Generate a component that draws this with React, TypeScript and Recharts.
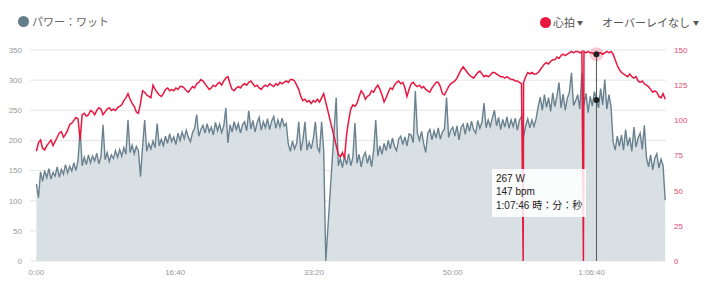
import React from "react";
import {
  ComposedChart,
  Area,
  Line,
  XAxis,
  YAxis,
  CartesianGrid,
  ReferenceLine,
  ReferenceDot,
} from "recharts";

// one sample every 15 seconds, 0:00 .. 1:15:30
const STEP_SEC = 15;

// power (W), null = no sample
const POWER: (number | null)[] = [
  128, 105, 148, 132, 150, 138, 153, 136, 147, 141, 156, 139, 152, 144, 160, 146, 157, 149, 163, 150,
  167, 218, 158, 172, 160, 176, 163, 174, 166, 179, 161, 173, 226, 168, 180, 165, 176, 170, 183, 172,
  185, 174, 188, 177, 234, 180, 192, 178, 190, 183, 140, 189, 234, 182, 195, 186, 199, 188, 228, 191,
  202, 191, 207, 195, 211, 198, 206, 193, 212, 200, 214, 203, 217, 205, 198, 213, 220, 243, 207, 218,
  225, 212, 228, 214, 222, 209, 230, 216, 227, 213, 224, 254, 196, 226, 214, 231, 218, 228, 212, 226,
  231, 216, 249, 219, 233, 214, 229, 238, 217, 231, 221, 236, 218, 232, 240, 220, 234, 222, 237, 224,
  228, 194, 182, 199, 186, 195, 231, 183, 200, 231, 184, 197, 186, 203, 231, 188, 181, 231, 183, 0,
  null, null, null, null, 271, 158, 170, 155, 174, 160, 178, 158, 172, 229, 162, 177, 156, 173, 180, 162,
  176, 156, 184, 234, 174, 191, 177, 195, 183, 200, 186, 204, 190, 183, 202, 207, 193, 206, 191, 211,
  209, 196, 282, 212, 200, 215, 195, 180, 212, 218, 201, 216, 204, 221, 202, 214, 219, 271, 205, 217,
  222, 207, 224, 201, 222, 227, 210, 229, 215, 232, 218, 212, 233, 220, 230, 262, 221, 234, 223, 237,
  250, 224, 238, 218, 235, 222, 239, 220, 234, 223, 237, 217, 233, 240, 206, 224, 236, 221, 234, 223,
  236, 256, 272, 250, 276, 255, 271, 248, 279, 256, 273, 296, 254, 277, 250, 270, 280, 312, 258, 266,
  276, 252, 312, 259, 278, 246, 273, 257, 281, 267, 254, 286, 259, 301, 252, 276, 256, 198, 184, 207,
  190, 209, 184, 218, 191, 205, 182, 222, 189, 204, 212, 185, 225, 172, 156, 176, 151, 170, 178, 154,
  169, 158, 101,
];

// heart rate (bpm)
const HR: (number | null)[] = [
  78, 84, 86, 80, 79, 82, 84, 86, 82, 85, 88, 91, 92, 88, 90, 93, 97, 98, 100, 102,
  101, 86, 104, 105, 103, 104, 107, 106, 104, 107, 109, 108, 104, 106, 108, 109, 107, 108, 107, 109,
  110, 111, 114, 116, 119, 115, 112, 110, 106, 105, 112, 121, 120, 118, 117, 116, 125, 122, 120, 118,
  117, 119, 122, 123, 121, 122, 121, 123, 122, 124, 124, 123, 121, 120, 122, 124, 123, 126, 127, 129,
  128, 126, 124, 122, 123, 125, 124, 126, 127, 125, 128, 130, 131, 126, 122, 121, 123, 124, 123, 125,
  126, 125, 127, 128, 126, 124, 125, 123, 122, 124, 125, 124, 126, 125, 124, 126, 125, 127, 126, 127,
  128, 127, 129, 129, 128, 125, 122, 117, 114, 115, 113, 114, 112, 114, 113, 115, 113, 116, 119, null,
  null, null, null, null, null, 76, 74, 77, 73, 90, 100, 108, 111, 110, 112, 117, 121, 119, 115, 117,
  118, 121, 120, 123, 125, 122, 118, 113, 116, 120, 123, 122, 125, 127, 128, 126, 127, 123, 117, 122,
  126, 127, 125, 124, 125, 123, 124, 122, 121, 120, 123, 125, 127, 127, 124, 119, 118, 121, 124, 126,
  127, 128, 130, 133, 136, 138, 136, 134, 132, 131, 130, 132, 134, 135, 133, 131, 132, 131, 132, 134,
  134, 133, 132, 131, 131, 130, 131, 130, 129, 129, 128, 128, 127, 126, 127, 131, 134, 133, 134, 133,
  133, 134, 136, 138, 140, 141, 140, 142, 143, 143, 145, 144, 146, 147, 146, 147, 148, 149, 148, 149,
  149, 148, 149, 149, 148, 149, 148, 148, 147, 147, 148, 148, 147, 148, 149, 148, 149, 147, 143, 139,
  136, 134, 133, 132, 131, 133, 131, 130, 131, 128, 127, 128, 126, 125, 124, 122, 120, 121, 120, 117,
  116, 119, 115,
];

// moments where the heart rate strap dropped to 0 (seconds)
const HR_DROPOUTS = [3507, 3941];

const X_TICKS = [0, 1000, 2000, 3000, 4000];
const POWER_TICKS = [0, 50, 100, 150, 200, 250, 300, 350];
const HR_TICKS = [0, 25, 50, 75, 100, 125, 150];

// hovered sample
const CURSOR_INDEX = 269;
const CURSOR_LABEL = "1:07:46";

const POWER_COLOR = "#6a8190";
const HR_COLOR = "#e8173f";

function fmtTime(s: number) {
  const h = Math.floor(s / 3600);
  const m = Math.floor((s % 3600) / 60);
  const sec = s % 60;
  const ss = String(sec).padStart(2, "0");
  if (h > 0) return `${h}:${String(m).padStart(2, "0")}:${ss}`;
  return `${m}:${ss}`;
}

const rows: { t: number; power: number | null; hr: number | null }[] = POWER.map(
  (p, i) => ({ t: i * STEP_SEC, power: p, hr: HR[i] })
);
HR_DROPOUTS.forEach((t) => rows.push({ t, power: null, hr: 0 }));
rows.sort((a, b) => a.t - b.t);

const cursorT = CURSOR_INDEX * STEP_SEC;
const cursorPower = POWER[CURSOR_INDEX] as number;
const cursorHr = HR[CURSOR_INDEX] as number;

const jp = '"Noto Sans CJK JP", "Liberation Sans", sans-serif';

const headerStyle: React.CSSProperties = {
  position: "absolute",
  top: 14,
  display: "flex",
  alignItems: "center",
  fontFamily: jp,
  fontSize: 11,
  lineHeight: "14px",
  color: "#555",
};

export default function App() {
  return (
    <div
      style={{
        position: "relative",
        width: 710,
        height: 289,
        background: "#fff",
        fontFamily: '"Liberation Sans", Arial, sans-serif',
      }}
    >
      <style>{`body{margin:0}`}</style>

      {/* legend / header */}
      <div style={{ ...headerStyle, left: 18, color: "#666" }}>
        <span
          style={{
            width: 11,
            height: 11,
            borderRadius: "50%",
            background: "#617c8b",
            marginRight: 3,
          }}
        />
        パワー：ワット
      </div>
      <div style={{ ...headerStyle, left: 540 }}>
        <span
          style={{
            width: 11,
            height: 11,
            borderRadius: "50%",
            background: HR_COLOR,
            marginRight: 2,
          }}
        />
        心拍
        <span style={{ fontSize: 6, marginLeft: 2, marginTop: 2 }}>▼</span>
      </div>
      <div style={{ ...headerStyle, left: 602 }}>
        オーバーレイなし
        <span style={{ fontSize: 6, marginLeft: 3, marginTop: 2 }}>▼</span>
      </div>

      <ComposedChart
        width={710}
        height={289}
        data={rows}
        margin={{ top: 50, right: 8, bottom: 8, left: 0 }}
      >
        <CartesianGrid vertical={false} stroke="#e6e6e6" yAxisId="power" />
        <XAxis
          dataKey="t"
          type="number"
          domain={[-46, 4536]}
          ticks={X_TICKS}
          tickFormatter={fmtTime}
          axisLine={false}
          tickLine={false}
          height={20}
          tick={{ fill: "#999", fontSize: 8 }}
          allowDataOverflow
        />
        <YAxis
          yAxisId="power"
          domain={[0, 350]}
          ticks={POWER_TICKS}
          axisLine={false}
          tickLine={false}
          width={30}
          tick={{ fill: "#999", fontSize: 8 }}
        />
        <YAxis
          yAxisId="hr"
          orientation="right"
          domain={[0, 150]}
          ticks={HR_TICKS}
          axisLine={false}
          tickLine={false}
          width={36}
          tick={{ fill: "#e2496f", fontSize: 8, textAnchor: "start" }}
        />
        <Area
          yAxisId="power"
          type="linear"
          dataKey="power"
          stroke={POWER_COLOR}
          strokeWidth={1.4}
          fill="#d9e0e4"
          fillOpacity={1}
          connectNulls
          dot={false}
          activeDot={false}
          isAnimationActive={false}
        />
        <Line
          yAxisId="hr"
          type="linear"
          dataKey="hr"
          stroke={HR_COLOR}
          strokeWidth={1.5}
          connectNulls
          dot={false}
          activeDot={false}
          isAnimationActive={false}
        />
        <ReferenceLine
          yAxisId="hr"
          segment={[
            { x: cursorT, y: cursorHr },
            { x: cursorT, y: 0 },
          ]}
          stroke="#555"
          strokeWidth={1}
        />
        <ReferenceDot
          yAxisId="hr"
          x={cursorT}
          y={cursorHr}
          r={7}
          fill={HR_COLOR}
          fillOpacity={0.22}
          stroke="none"
        />
        <ReferenceDot
          yAxisId="hr"
          x={cursorT}
          y={cursorHr}
          r={3}
          fill="#222"
          stroke="none"
        />
        <ReferenceDot
          yAxisId="power"
          x={cursorT}
          y={cursorPower}
          r={3}
          fill="#222"
          stroke="none"
        />
      </ComposedChart>

      {/* hover tooltip */}
      <div
        style={{
          position: "absolute",
          left: 492,
          top: 169,
          width: 94,
          height: 48,
          boxSizing: "border-box",
          padding: "3px 0 0 4px",
          background: "rgba(255,255,255,0.85)",
          fontSize: 10,
          lineHeight: "13px",
          color: "#222",
          whiteSpace: "nowrap",
        }}
      >
        <div>{cursorPower} W</div>
        <div>{cursorHr} bpm</div>
        <div>
          {CURSOR_LABEL} <span style={{ fontFamily: jp }}>時：分：秒</span>
        </div>
      </div>
    </div>
  );
}
